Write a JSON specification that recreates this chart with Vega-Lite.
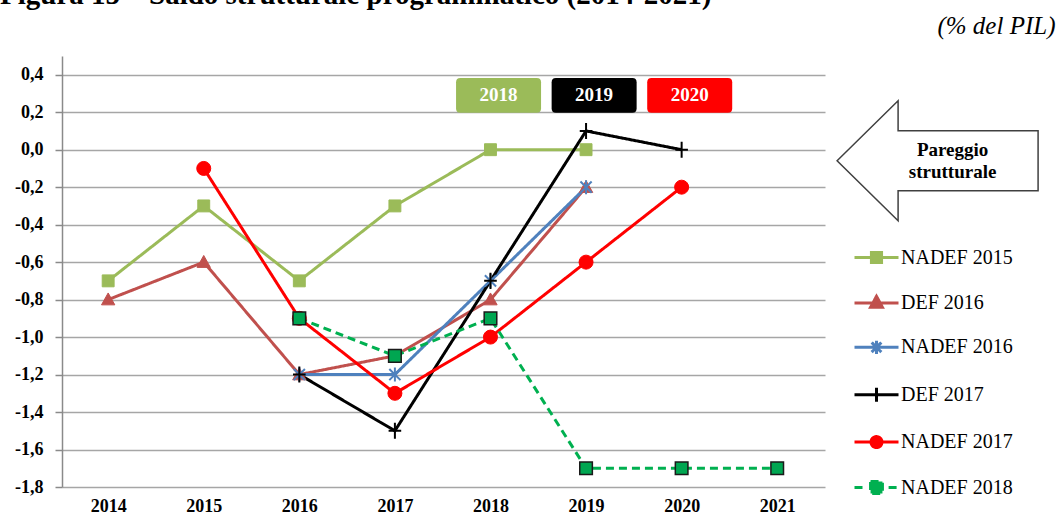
{
  "$schema": "https://vega.github.io/schema/vega-lite/v6.json",
  "width": 763,
  "height": 431,
  "autosize": {"type": "none"},
  "padding": {"left": 62, "top": 56, "right": 236, "bottom": 33},
  "background": "white",
  "title": {
    "text": "Figura 15 – Saldo strutturale programmatico (2014-2021)",
    "anchor": "start",
    "frame": "group",
    "font": "Liberation Serif",
    "fontSize": 29,
    "fontWeight": "bold",
    "color": "black",
    "baseline": "alphabetic",
    "dx": -62,
    "dy": 20,
    "offset": 0
  },
  "layer": [
    {
      "data": {
        "values": [
          {"serie": "NADEF 2015", "anno": 2014, "val": -0.7},
          {"serie": "NADEF 2015", "anno": 2015, "val": -0.3},
          {"serie": "NADEF 2015", "anno": 2016, "val": -0.7},
          {"serie": "NADEF 2015", "anno": 2017, "val": -0.3},
          {"serie": "NADEF 2015", "anno": 2018, "val": 0.0},
          {"serie": "NADEF 2015", "anno": 2019, "val": 0.0},
          {"serie": "DEF 2016", "anno": 2014, "val": -0.8},
          {"serie": "DEF 2016", "anno": 2015, "val": -0.6},
          {"serie": "DEF 2016", "anno": 2016, "val": -1.2},
          {"serie": "DEF 2016", "anno": 2017, "val": -1.1},
          {"serie": "DEF 2016", "anno": 2018, "val": -0.8},
          {"serie": "DEF 2016", "anno": 2019, "val": -0.2},
          {"serie": "NADEF 2016", "anno": 2016, "val": -1.2},
          {"serie": "NADEF 2016", "anno": 2017, "val": -1.2},
          {"serie": "NADEF 2016", "anno": 2018, "val": -0.7},
          {"serie": "NADEF 2016", "anno": 2019, "val": -0.2},
          {"serie": "DEF 2017", "anno": 2016, "val": -1.2},
          {"serie": "DEF 2017", "anno": 2017, "val": -1.5},
          {"serie": "DEF 2017", "anno": 2018, "val": -0.7},
          {"serie": "DEF 2017", "anno": 2019, "val": 0.1},
          {"serie": "DEF 2017", "anno": 2020, "val": 0.0},
          {"serie": "NADEF 2017", "anno": 2015, "val": -0.1},
          {"serie": "NADEF 2017", "anno": 2016, "val": -0.9},
          {"serie": "NADEF 2017", "anno": 2017, "val": -1.3},
          {"serie": "NADEF 2017", "anno": 2018, "val": -1.0},
          {"serie": "NADEF 2017", "anno": 2019, "val": -0.6},
          {"serie": "NADEF 2017", "anno": 2020, "val": -0.2},
          {"serie": "NADEF 2018", "anno": 2016, "val": -0.9},
          {"serie": "NADEF 2018", "anno": 2017, "val": -1.1},
          {"serie": "NADEF 2018", "anno": 2018, "val": -0.9},
          {"serie": "NADEF 2018", "anno": 2019, "val": -1.7},
          {"serie": "NADEF 2018", "anno": 2020, "val": -1.7},
          {"serie": "NADEF 2018", "anno": 2021, "val": -1.7}
        ]
      },
      "layer": [
        {
          "mark": {"type": "line", "strokeWidth": 3},
          "encoding": {
            "x": {
              "field": "anno",
              "type": "quantitative",
              "scale": {"domain": [2013.517, 2021.5], "nice": false, "zero": false},
              "axis": {
                "values": [2014, 2015, 2016, 2017, 2018, 2019, 2020, 2021],
                "tickCount": 30,
                "format": "d",
                "title": null,
                "domain": false,
                "ticks": false,
                "grid": false,
                "labelFont": "Liberation Serif",
                "labelFontSize": 18,
                "labelFontWeight": "bold",
                "labelColor": "black",
                "labelPadding": 10,
                "labelFlush": false,
                "labelOverlap": false
              }
            },
            "y": {
              "field": "val",
              "type": "quantitative",
              "scale": {"domain": [-1.8, 0.5], "nice": false, "zero": false},
              "axis": {
                "values": [-1.8, -1.6, -1.4, -1.2, -1.0, -0.8, -0.6, -0.4, -0.2, 0.0, 0.2, 0.4],
                "tickCount": 30,
                "format": ".1f",
                "grid": true,
                "gridColor": "#a6a6a6",
                "gridWidth": 1.5,
                "domain": true,
                "tickSize": 7,
                "tickColor": "#8a8a8a",
                "tickWidth": 1.5,
                "domainColor": "#8a8a8a",
                "domainWidth": 1.5,
                "labelFont": "Liberation Serif",
                "labelFontSize": 18,
                "labelFontWeight": "bold",
                "labelColor": "black",
                "labelPadding": 12,
                "labelOverlap": false,
                "labelFlush": false,
                "title": "(% del PIL)",
                "titleAngle": 0,
                "titleAlign": "right",
                "titleBaseline": "alphabetic",
                "titleX": 993,
                "titleY": -23,
                "titleFont": "Liberation Serif",
                "titleFontSize": 25,
                "titleFontStyle": "italic",
                "titleFontWeight": "normal",
                "titleColor": "black"
              }
            },
            "color": {
              "field": "serie",
              "type": "nominal",
              "scale": {
                "domain": ["NADEF 2015", "DEF 2016", "NADEF 2016", "DEF 2017", "NADEF 2017", "NADEF 2018"],
                "range": ["#9bbb59", "#c0504d", "#4f81bd", "#000000", "#ff0000", "#00b050"]
              },
              "legend": {
                "title": null,
                "orient": "none",
                "legendX": 791,
                "legendY": 178,
                "padding": 0,
                "symbolSize": 1936,
                "symbolStrokeWidth": 3,
                "labelFont": "Liberation Serif",
                "labelFontSize": 20,
                "labelFontWeight": "normal",
                "labelColor": "black",
                "labelOffset": 1,
                "labelLimit": 300,
                "rowPadding": 10.4,
                "encode": {
                  "symbols": {
                    "update": {
                      "shape": {"signal": "datum.value === 'NADEF 2015' ? 'M-1,0H1M-0.23,-0.23H0.23V0.23H-0.23Z' : datum.value === 'DEF 2016' ? 'M-1,0H1M0,-0.3L0.27,0.2H-0.27Z' : datum.value === 'NADEF 2016' ? 'M-1,0H1M-0.22,-0.22L0.22,0.22M-0.22,0.22L0.22,-0.22M0,-0.3V0.3' : datum.value === 'DEF 2017' ? 'M-1,0H1M0,-0.32V0.32' : datum.value === 'NADEF 2017' ? 'M-1,0H1M-0.25,0A0.25,0.25 0 1,0 0.25,0A0.25,0.25 0 1,0 -0.25,0Z' : 'M-1,0H-0.55M0.55,0H1M-0.27,-0.27H0.27V0.27H-0.27Z'"},
                      "fill": {"scale": "color", "field": "value"},
                      "stroke": {"scale": "color", "field": "value"},
                      "strokeDash": {"value": [1, 0]},
                      "strokeJoin": {"value": "miter"},
                      "strokeCap": {"value": "butt"},
                      "opacity": {"value": 1}
                    }
                  }
                }
              }
            },
            "strokeDash": {
              "field": "serie",
              "type": "nominal",
              "scale": {
                "domain": ["NADEF 2015", "DEF 2016", "NADEF 2016", "DEF 2017", "NADEF 2017", "NADEF 2018"],
                "range": [[1, 0], [1, 0], [1, 0], [1, 0], [1, 0], [8, 5]]
              },
              "legend": null
            }
          }
        },
        {
          "transform": [{"filter": "datum.serie === 'NADEF 2015'"}],
          "mark": {"type": "point", "filled": true, "opacity": 1, "size": 196, "shape": "M-0.85,-0.85H0.85V0.85H-0.85Z", "fill": "#9bbb59", "stroke": "#9bbb59", "strokeWidth": 1},
          "encoding": {
            "x": {"field": "anno", "type": "quantitative"},
            "y": {"field": "val", "type": "quantitative"}
          }
        },
        {
          "transform": [{"filter": "datum.serie === 'DEF 2016'"}],
          "mark": {"type": "point", "filled": true, "opacity": 1, "size": 196, "shape": "M0,-0.95L0.95,0.75H-0.95Z", "fill": "#c0504d", "stroke": "#c0504d", "strokeWidth": 1},
          "encoding": {
            "x": {"field": "anno", "type": "quantitative"},
            "y": {"field": "val", "type": "quantitative"}
          }
        },
        {
          "transform": [{"filter": "datum.serie === 'NADEF 2016'"}],
          "mark": {"type": "point", "filled": false, "opacity": 1, "size": 196, "shape": "M-0.8,-0.8L0.8,0.8M-0.8,0.8L0.8,-0.8M0,-1V1", "stroke": "#4f81bd", "strokeWidth": 2},
          "encoding": {
            "x": {"field": "anno", "type": "quantitative"},
            "y": {"field": "val", "type": "quantitative"}
          }
        },
        {
          "transform": [{"filter": "datum.serie === 'DEF 2017'"}],
          "mark": {"type": "point", "filled": false, "opacity": 1, "size": 196, "shape": "M0,-1.15V1.15M-0.9,0H0.9", "stroke": "#000000", "strokeWidth": 2},
          "encoding": {
            "x": {"field": "anno", "type": "quantitative"},
            "y": {"field": "val", "type": "quantitative"}
          }
        },
        {
          "transform": [{"filter": "datum.serie === 'NADEF 2017'"}],
          "mark": {"type": "point", "filled": true, "opacity": 1, "size": 196, "shape": "circle", "fill": "#ff0000", "stroke": "#ff0000", "strokeWidth": 1},
          "encoding": {
            "x": {"field": "anno", "type": "quantitative"},
            "y": {"field": "val", "type": "quantitative"}
          }
        },
        {
          "transform": [{"filter": "datum.serie === 'NADEF 2018'"}],
          "mark": {"type": "point", "filled": true, "opacity": 1, "size": 196, "shape": "M-0.9,-0.9H0.9V0.9H-0.9Z", "fill": "#00a651", "stroke": "#1a1a1a", "strokeWidth": 1.5},
          "encoding": {
            "x": {"field": "anno", "type": "quantitative"},
            "y": {"field": "val", "type": "quantitative"}
          }
        }
      ]
    },
    {
      "data": {
        "values": [
          {"anno": 2018, "label": "2018"},
          {"anno": 2019, "label": "2019"},
          {"anno": 2020, "label": "2020"}
        ]
      },
      "layer": [
        {
          "mark": {
            "type": "point",
            "filled": true,
            "opacity": 1,
            "size": 7225,
            "strokeWidth": 0,
            "shape": "M-0.71,-0.41H1.09Q1.19,-0.41 1.19,-0.31V0.31Q1.19,0.41 1.09,0.41H-0.71Q-0.81,0.41 -0.81,0.31V-0.31Q-0.81,-0.41 -0.71,-0.41Z"
          },
          "encoding": {
            "x": {"field": "anno", "type": "quantitative"},
            "y": {"datum": 0.29},
            "fill": {
              "field": "label",
              "type": "nominal",
              "scale": {"domain": ["2018", "2019", "2020"], "range": ["#9bbb59", "#000000", "#ff0000"]},
              "legend": null
            }
          }
        },
        {
          "mark": {
            "type": "text",
            "dx": 8,
            "baseline": "middle",
            "align": "center",
            "font": "Liberation Serif",
            "fontSize": 19,
            "fontWeight": "bold",
            "color": "white"
          },
          "encoding": {
            "x": {"field": "anno", "type": "quantitative"},
            "y": {"datum": 0.29},
            "text": {"field": "label"}
          }
        }
      ]
    },
    {
      "data": {"values": [{"label": "Pareggio strutturale", "val": 0}]},
      "layer": [
        {
          "mark": {
            "type": "point",
            "filled": true,
            "opacity": 1,
            "size": 40401,
            "fill": "white",
            "stroke": "#404040",
            "strokeWidth": 1.5,
            "shape": "M-1,0.11L-0.393,-0.487L-0.393,-0.189L1,-0.189L1,0.409L-0.393,0.409L-0.393,0.707Z"
          },
          "encoding": {
            "x": {"datum": 2022.678},
            "y": {"field": "val", "type": "quantitative"}
          }
        },
        {
          "mark": {
            "type": "text",
            "dx": 15,
            "dy": 0,
            "baseline": "middle",
            "align": "center",
            "lineBreak": " ",
            "lineHeight": 22,
            "font": "Liberation Serif",
            "fontSize": 19,
            "fontWeight": "bold",
            "color": "black"
          },
          "encoding": {
            "x": {"datum": 2022.678},
            "y": {"field": "val", "type": "quantitative"},
            "text": {"field": "label"}
          }
        }
      ]
    }
  ],
  "config": {
    "view": {"stroke": null},
    "locale": {
      "number": {"decimal": ",", "thousands": ".", "grouping": [3], "currency": ["", " €"], "minus": "-"}
    }
  }
}
